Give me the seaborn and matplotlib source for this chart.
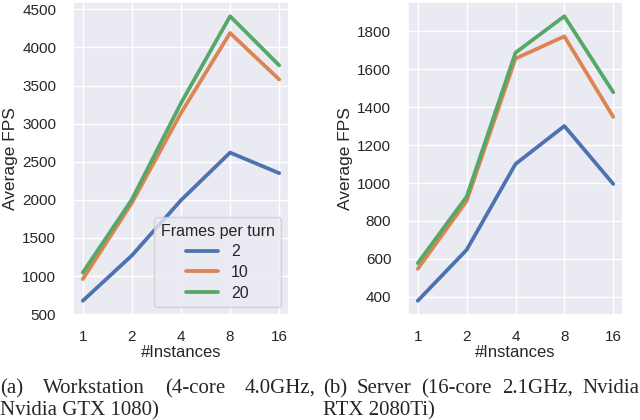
import matplotlib
matplotlib.use("Agg")
import matplotlib.pyplot as plt
import pandas as pd
import seaborn as sns

instances = ["1", "2", "4", "8", "16"]
frames = ["2", "10", "20"]

# workstation (a)
ws_f2 = [675, 1270, 1995, 2620, 2350]
ws_f10 = [960, 1960, 3140, 4190, 3580]
ws_f20 = [1045, 2005, 3270, 4410, 3765]

# server (b)
sv_f2 = [380, 648, 1100, 1300, 995]
sv_f10 = [548, 905, 1655, 1772, 1348]
sv_f20 = [578, 928, 1686, 1878, 1478]

caption_a = ["(a) Workstation (4-core 4.0GHz,", "Nvidia GTX 1080)"]
caption_b = ["(b) Server (16-core 2.1GHz, Nvidia", "RTX 2080Ti)"]


def make_df(series):
    rows = []
    for fr, vals in zip(frames, series):
        for inst, v in zip(instances, vals):
            rows.append({"#Instances": inst, "Frames per turn": fr, "Average FPS": v})
    return pd.DataFrame(rows)


def justify(fig, words, x0, x1, y, renderer, **kw):
    # place words so the line spans x0..x1 (figure fraction)
    texts = [fig.text(0, y, w, va="baseline", **kw) for w in words]
    widths = [t.get_window_extent(renderer).width / fig.bbox.width for t in texts]
    gap = (x1 - x0 - sum(widths)) / (len(words) - 1)
    x = x0
    for t, w in zip(texts, widths):
        t.set_x(x)
        x += w + gap


sns.set_theme(style="darkgrid")
plt.rcParams["font.family"] = ["Liberation Sans", "DejaVu Sans"]

fig = plt.figure(figsize=(6.4, 4.2), dpi=100)
ax1 = fig.add_axes([73 / 640, 1 - 315 / 420, 216 / 640, 313 / 420])
ax2 = fig.add_axes([408 / 640, 1 - 315 / 420, 215 / 640, 313 / 420])

palette = sns.color_palette("deep", 3)
df_a = make_df([ws_f2, ws_f10, ws_f20])
df_b = make_df([sv_f2, sv_f10, sv_f20])

sns.lineplot(data=df_a, x="#Instances", y="Average FPS", hue="Frames per turn",
             palette=palette, linewidth=2.7, ax=ax1)
sns.lineplot(data=df_b, x="#Instances", y="Average FPS", hue="Frames per turn",
             palette=palette, linewidth=2.7, ax=ax2, legend=False)

for ax in (ax1, ax2):
    ax.tick_params(axis="x", labelsize=11, pad=4.5)
    ax.tick_params(axis="y", labelsize=11, pad=6)
    ax.set_xlabel("#Instances", fontsize=12, labelpad=1)
    ax.set_ylabel("Average FPS", fontsize=12.5, labelpad=3)

ax1.set_yticks([500, 1000, 1500, 2000, 2500, 3000, 3500, 4000, 4500])
ax2.set_yticks([400, 600, 800, 1000, 1200, 1400, 1600, 1800])

leg = ax1.legend(title="Frames per turn", loc="lower right", fontsize=11.5,
                 title_fontsize=11.5, labelspacing=0.35)
for line in leg.get_lines():
    line.set_linewidth(2.7)

fig.canvas.draw()
r = fig.canvas.get_renderer()
serif = dict(family="Liberation Serif", fontsize=15)
justify(fig, caption_a[0].split(), 0.0, 316 / 640, 1 - 393 / 420, r, **serif)
justify(fig, caption_b[0].split(), 323 / 640, 0.999, 1 - 393 / 420, r, **serif)
fig.text(0.0, 1 - 415 / 420, caption_a[1], va="baseline", **serif)
fig.text(323 / 640, 1 - 415 / 420, caption_b[1], va="baseline", **serif)

fig.savefig("out.png", dpi=100)
